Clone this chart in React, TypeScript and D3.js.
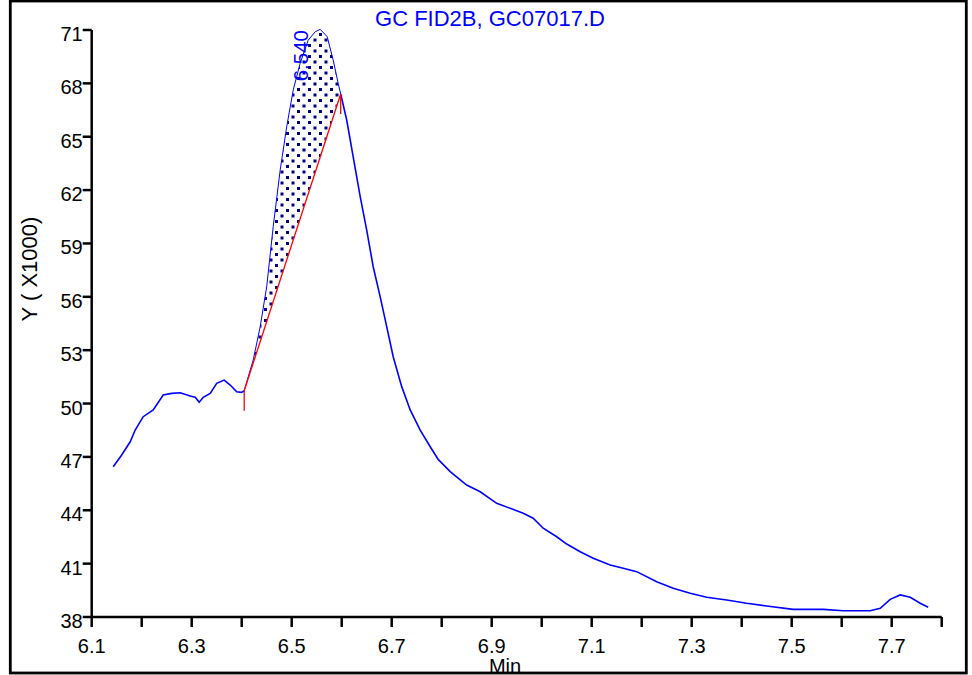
import React from 'react';
import * as d3 from 'd3';

// retention time (min) and detector signal (x1000)
const times = [
  6.143, 6.16, 6.177, 6.187, 6.203, 6.223, 6.243, 6.26, 6.277, 6.297,
  6.307, 6.315, 6.323, 6.337, 6.35, 6.365, 6.377, 6.39, 6.4, 6.405,
  6.423, 6.437, 6.45, 6.463, 6.477, 6.49, 6.503, 6.517, 6.533, 6.547,
  6.557, 6.571, 6.583, 6.593, 6.598, 6.61, 6.623, 6.637, 6.65, 6.663,
  6.677, 6.69, 6.703, 6.72, 6.737, 6.757, 6.777, 6.793, 6.817, 6.85,
  6.877, 6.91, 6.937, 6.963, 6.983, 7.003, 7.03, 7.05, 7.077, 7.103,
  7.137, 7.163, 7.19, 7.23, 7.263, 7.297, 7.33, 7.37, 7.41, 7.45,
  7.503, 7.563, 7.603, 7.657, 7.677, 7.697, 7.717, 7.737, 7.757, 7.773,
];
const signal = [
  46.45, 47.11, 47.85, 48.51, 49.26, 49.64, 50.48, 50.57, 50.61, 50.42,
  50.35, 50.07, 50.35, 50.57, 51.14, 51.32, 51.04, 50.66, 50.63, 50.72,
  52.45, 54.32, 56.57, 59.94, 63.13, 65.56, 67.62, 69.14, 70.43, 70.9,
  71.04, 70.62, 69.31, 68.0, 67.4, 65.94, 63.87, 61.63, 59.75, 57.69,
  56.0, 54.32, 52.63, 50.95, 49.64, 48.51, 47.57, 46.86, 46.17, 45.42,
  45.04, 44.39, 44.11, 43.83, 43.55, 42.99, 42.51, 42.1, 41.67, 41.3,
  40.92, 40.74, 40.55, 39.98, 39.61, 39.33, 39.11, 38.96, 38.77, 38.62,
  38.43, 38.43, 38.35, 38.35, 38.49, 38.99, 39.24, 39.11, 38.77, 38.55,
];

// integrated peak: baseline endpoints and label
const baseTimes = [6.405, 6.598];
const baseValues = [50.72, 67.4];
const peakLabel = '6.540';
const peakLabelTime = 6.533;

const yTicks = [38, 41, 44, 47, 50, 53, 56, 59, 62, 65, 68, 71];
const xTicks = d3.range(61, 79).map((d) => d / 10);
const xLabels = [6.1, 6.3, 6.5, 6.7, 6.9, 7.1, 7.3, 7.5, 7.7];

const title = 'GC FID2B, GC07017.D';
const yTitle = 'Y ( X1000)';
const xTitle = 'Min';

const W = 972;
const H = 675;
const font = '"Liberation Sans", Arial, sans-serif';

export default function App() {
  const x = d3.scaleLinear().domain([6.1, 7.8]).range([91.7, 941.7]);
  const y = d3.scaleLinear().domain([38, 71]).range([617, 30]);

  const pts = times.map((t, i) => ({ t, v: signal[i] }));
  const [t0, t1] = baseTimes;
  const base = d3.scaleLinear().domain(baseTimes).range(baseValues);

  const line = d3
    .line<{ t: number; v: number }>()
    .x((d) => x(d.t))
    .y((d) => y(d.v));

  const before = pts.filter((d) => d.t <= t0);
  const peak = pts.filter((d) => d.t >= t0 && d.t <= t1);
  const after = pts.filter((d) => d.t >= t1);

  const area = d3
    .area<{ t: number; v: number }>()
    .x((d) => x(d.t))
    .y0((d) => y(base(d.t)))
    .y1((d) => y(d.v));

  const blue = '#0000ff';

  return (
    <svg
      width={W}
      height={H}
      style={{ position: 'absolute', left: 0, top: 0, background: '#fff' }}
      fontFamily={font}
    >
      <defs>
        <pattern id="dots" width={11} height={11} patternUnits="userSpaceOnUse">
          <rect x={0} y={0} width={3} height={3} fill="#000080" />
          <rect x={5.5} y={5.5} width={3} height={3} fill="#000080" />
        </pattern>
      </defs>

      {/* title */}
      <text x={490} y={26} textAnchor="middle" fontSize={22} fill={blue}>
        {title}
      </text>

      {/* peak fill */}
      <path d={area(peak) ?? ''} fill="url(#dots)" stroke="none" />

      {/* trace */}
      <path d={line(before) ?? ''} fill="none" stroke={blue} strokeWidth={1.6} />
      <path d={line(peak) ?? ''} fill="none" stroke={blue} strokeWidth={1} />
      <path d={line(after) ?? ''} fill="none" stroke={blue} strokeWidth={1.6} />

      {/* baseline */}
      <line
        x1={x(t0)}
        y1={y(baseValues[0])}
        x2={x(t1)}
        y2={y(baseValues[1])}
        stroke="#ff0000"
        strokeWidth={1.3}
      />
      {baseTimes.map((t, i) => (
        <line
          key={t}
          x1={x(t)}
          x2={x(t)}
          y1={y(baseValues[i])}
          y2={y(baseValues[i]) + 20}
          stroke="#ff0000"
          strokeWidth={1.3}
        />
      ))}
      <text
        transform={`translate(${x(peakLabelTime)},${y(71)}) rotate(-90)`}
        textAnchor="end"
        fontSize={20.5}
        fill={blue}
      >
        {peakLabel}
      </text>

      {/* y axis */}
      <line x1={x(6.1)} x2={x(6.1)} y1={y(71)} y2={y(38)} stroke="#000" strokeWidth={2.5} />
      {yTicks.map((v) => (
        <g key={v}>
          <line x1={x(6.1) - 9} x2={x(6.1)} y1={y(v)} y2={y(v)} stroke="#000" strokeWidth={2.5} />
          <text x={x(6.1) - 9} y={y(v) + 11} textAnchor="end" fontSize={20} fill="#000">
            {v}
          </text>
        </g>
      ))}

      {/* x axis */}
      <line x1={x(6.1)} x2={x(7.8)} y1={y(38)} y2={y(38)} stroke="#000" strokeWidth={2.5} />
      {xTicks.map((t) => (
        <line key={t} x1={x(t)} x2={x(t)} y1={y(38)} y2={y(38) + 10} stroke="#000" strokeWidth={2.5} />
      ))}
      {xLabels.map((t) => (
        <text key={t} x={x(t)} y={653} textAnchor="middle" fontSize={20} fill="#000">
          {t.toFixed(1)}
        </text>
      ))}

      <text x={505} y={673} textAnchor="middle" fontSize={20} fill="#000">
        {xTitle}
      </text>
      <text transform="translate(37,269) rotate(-90)" textAnchor="middle" fontSize={22} fill="#000">
        {yTitle}
      </text>

      {/* frame */}
      <rect x={10.3} y={1} width={956} height={672} fill="none" stroke="#000" strokeWidth={2.8} />
    </svg>
  );
}
